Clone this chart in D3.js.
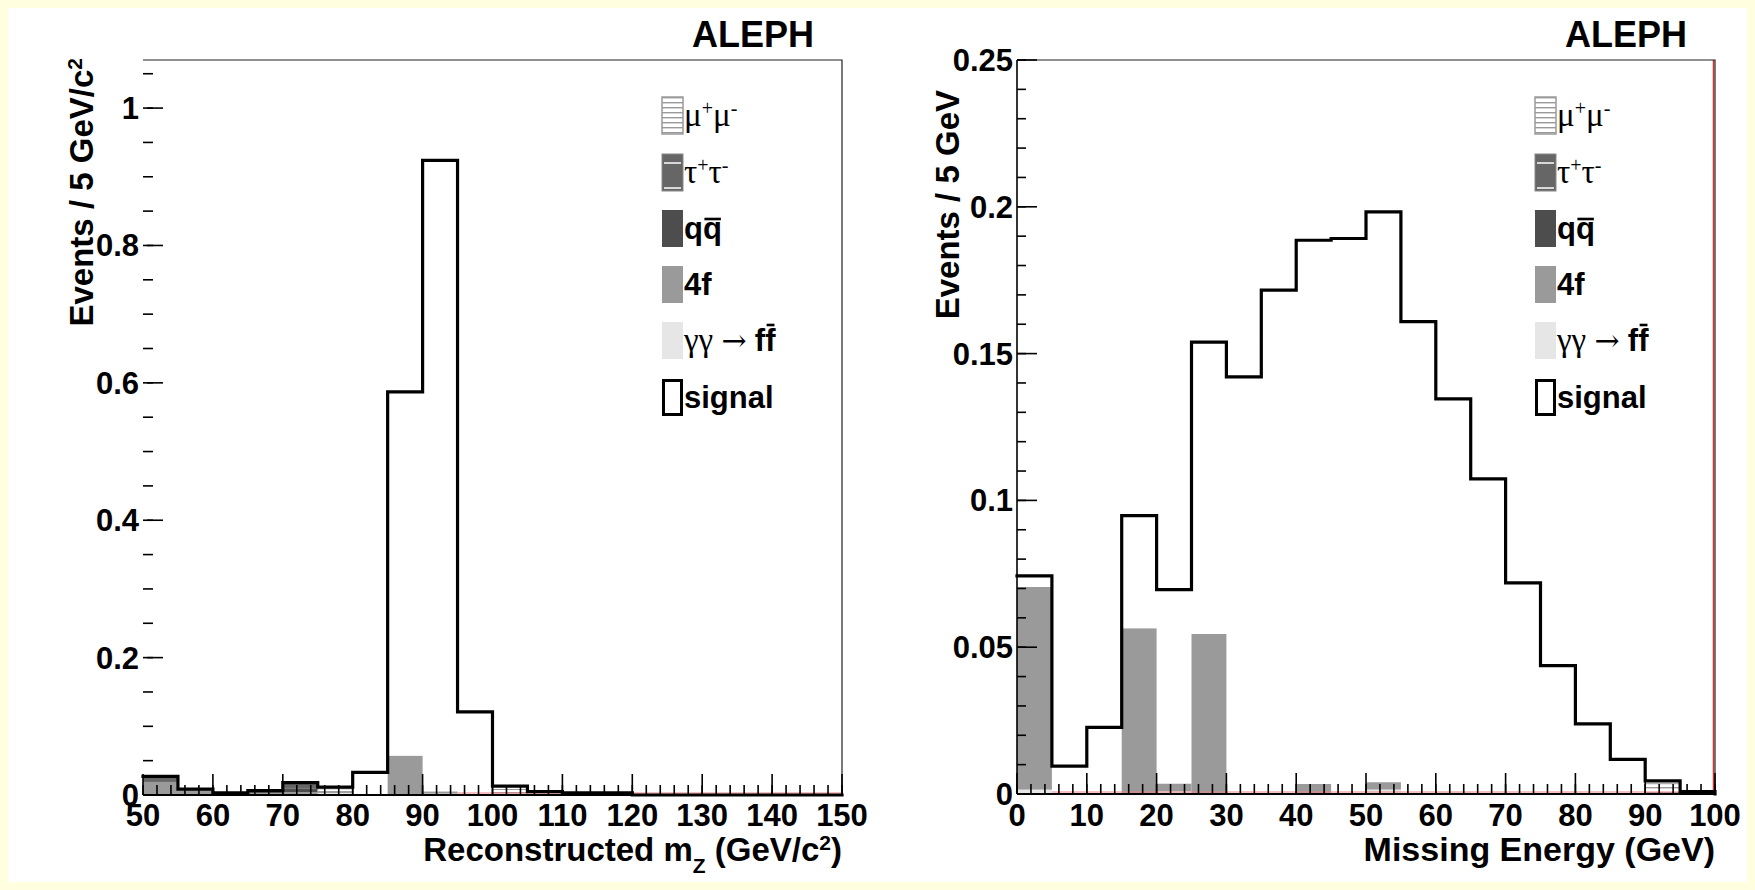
<!DOCTYPE html>
<html><head><meta charset="utf-8">
<script src="https://cdn.jsdelivr.net/npm/d3@7"></script>
<style>body{margin:0;background:#ffffe0;} svg{display:block}</style>
</head><body><svg id="c" width="1755" height="890"></svg>
<script>
// ---------- DATA ----------
// Left panel: reconstructed mZ, 5 GeV bins (low edges)
const mzBins = [50,55,60,65,70,75,80,85,90,95,100,105,110,115,120,125,130,135,140,145];
const mzSignal = [0.027,0.0085,0.003,0.0065,0.018,0.0115,0.033,0.587,0.924,0.121,0.013,0.005,0.003,0.003,0,0,0,0,0,0];
const mzGG     = [0,0,0,0,0,0.003,0,0,0.002,0,0,0,0,0,0,0,0,0,0,0];
const mz4f     = [0.019,0.007,0,0.003,0.004,0.002,0,0.057,0.003,0,0,0,0,0,0,0,0,0,0,0];
const mzQQ     = [0,0,0.003,0,0.005,0,0,0,0,0,0,0,0,0,0,0,0,0,0,0];
const mzTauTau = [0.008,0,0,0.003,0.009,0,0,0,0,0,0,0,0,0,0,0,0,0,0,0];
const mzMuMu   = [0,0,0,0,0,0.004,0,0,0,0,0.008,0,0,0,0,0,0,0,0,0];
const mzXTicks = [50,60,70,80,90,100,110,120,130,140,150];
const mzYTicks = [0,0.2,0.4,0.6,0.8,1];
const mzYLabels = ["0","0.2","0.4","0.6","0.8","1"];

// Right panel: missing energy, 5 GeV bins (low edges)
const meBins = [0,5,10,15,20,25,30,35,40,45,50,55,60,65,70,75,80,85,90,95];
const meSignal = [0.0743,0.0095,0.0227,0.0948,0.0696,0.1539,0.1421,0.1716,0.1886,0.1892,0.1983,0.1609,0.1346,0.1073,0.0719,0.0437,0.0239,0.0118,0.0045,0.0008];
const meGG     = [0.0015,0,0,0,0.001,0,0,0,0,0,0.0015,0,0.0008,0,0,0,0,0,0,0];
const me4f     = [0.069,0,0,0.0564,0.0025,0.0545,0,0,0.0034,0,0.0025,0,0,0,0,0,0,0,0,0];
const meQQ     = [0,0,0,0,0,0,0,0,0,0,0,0,0,0,0,0,0,0,0,0];
const meTauTau = [0,0,0,0,0,0,0,0,0,0,0,0,0,0,0,0,0,0,0,0];
const meMuMu   = [0,0,0,0,0,0,0,0,0,0,0,0,0,0,0,0,0,0,0.0035,0];
const meXTicks = [0,10,20,30,40,50,60,70,80,90,100];
const meYTicks = [0,0.05,0.1,0.15,0.2,0.25];
const meYLabels = ["0","0.05","0.1","0.15","0.2","0.25"];

const legendNames = ["mumu","tautau","qq","4f","gg","signal"];

// ---------- DRAW ----------
const svg = d3.select("#c");
const SANS = "'Liberation Sans', Arial, Helvetica, sans-serif";
const SERIF = "'Liberation Serif', 'Times New Roman', serif";

svg.append("rect").attr("x",0).attr("y",0).attr("width",1755).attr("height",890).attr("fill","#ffffe0");
svg.append("rect").attr("x",8).attr("y",8).attr("width",1739).attr("height",874).attr("fill","#ffffff");

const defs = svg.append("defs");
const pMu = defs.append("pattern").attr("id","hMu").attr("patternUnits","userSpaceOnUse")
  .attr("width",10).attr("height",5);
pMu.append("rect").attr("width",10).attr("height",5).attr("fill","#ffffff");
pMu.append("rect").attr("y",2).attr("width",10).attr("height",1.4).attr("fill","#9a9a9a");

const colors = {gg:"#e6e6e6", f4:"#9a9a9a", qq:"#4d4d4d", tau:"#666666", mu:"url(#hMu)"};

function overbar(g, textNode, idx, rise) {
  const e = textNode.getExtentOfChar(idx);
  const base = +textNode.getAttribute("y");
  g.append("line").attr("x1",e.x+1.5).attr("x2",e.x+e.width-1).attr("y1",base-rise).attr("y2",base-rise)
    .attr("stroke","#000").attr("stroke-width",2.6);
}

function drawPanel(p) {
  const x = d3.scaleLinear().domain(p.xDomain).range([p.x0, p.x1]);
  const y = d3.scaleLinear().domain(p.yDomain).range([p.y0, p.top]);
  const g = svg.append("g");
  const width = p.bins[1]-p.bins[0];

  // stacked backgrounds
  const rows = p.bins.map((b,i)=>({lo:b, gg:p.gg[i], f4:p.f4[i], qq:p.qq[i], tau:p.tau[i], mu:p.mu[i]}));
  const keys = ["gg","f4","qq","tau","mu"];
  const stack = d3.stack().keys(keys)(rows);
  stack.forEach(layer=>{
    g.append("g").selectAll("rect").data(layer.filter(d=>d[1]-d[0]>0)).join("rect")
      .attr("x",d=>x(d.data.lo)).attr("width",d=>x(d.data.lo+width)-x(d.data.lo))
      .attr("y",d=>y(d[1])).attr("height",d=>y(d[0])-y(d[1]))
      .attr("fill",colors[layer.key])
      .attr("stroke", layer.key==="mu" ? "#9a9a9a" : "none").attr("stroke-width",1);
  });

  // red zero-level line
  p.red.forEach(([a,b])=>{
    g.append("line").attr("x1",x(a)).attr("x2",x(b)).attr("y1",y(0)-2).attr("y2",y(0)-2)
      .attr("stroke","#f08080").attr("stroke-width",1.2);
  });
  if (p.redEdge) {
    g.append("line").attr("x1",x(p.xDomain[1])-1.5).attr("x2",x(p.xDomain[1])-1.5)
      .attr("y1",p.top).attr("y2",p.y0).attr("stroke","#e03030").attr("stroke-width",1.5);
  }

  // frame (top, right)
  g.append("path").attr("d",`M${p.x0},${p.top}H${p.x1}V${p.y0}`).attr("fill","none")
    .attr("stroke","#222").attr("stroke-width",1.2);
  if (p.leftLine) g.append("line").attr("x1",p.x0).attr("x2",p.x0).attr("y1",p.top).attr("y2",p.y0)
    .attr("stroke","#000").attr("stroke-width",1.6);

  // signal step line
  let d = "";
  p.bins.forEach((b,i)=>{
    const xa = x(b), xb = x(b+width), yy = y(p.signal[i]);
    d += (i===0 ? `M${xa},${yy}` : `L${xa},${yy}`) + `L${xb},${yy}`;
  });
  d += `L${x(p.xDomain[1])},${y(0)}`;
  g.append("path").attr("d",d).attr("fill","none").attr("stroke","#000").attr("stroke-width",3.2)
    .attr("stroke-linejoin","miter").attr("stroke-linecap","square");

  // x axis line
  g.append("line").attr("x1",p.x0).attr("x2",p.x1).attr("y1",y(0)).attr("y2",y(0))
    .attr("stroke","#000").attr("stroke-width",2);

  // x ticks
  const xMinor = d3.range(p.xDomain[0], p.xDomain[1]+0.001, 2);
  g.append("g").selectAll("line").data(xMinor).join("line")
    .attr("x1",v=>x(v)).attr("x2",v=>x(v)).attr("y1",y(0)).attr("y2",y(0)-10)
    .attr("stroke","#000").attr("stroke-width",1.6);
  g.append("g").selectAll("line").data(p.xTicks).join("line")
    .attr("x1",v=>x(v)).attr("x2",v=>x(v)).attr("y1",y(0)).attr("y2",y(0)-21)
    .attr("stroke","#000").attr("stroke-width",1.6);
  g.append("g").selectAll("text").data(p.xTicks).join("text")
    .attr("x",v=>x(v)).attr("y",826).attr("text-anchor","middle")
    .attr("font-family",SANS).attr("font-weight","bold").attr("font-size",31).text(v=>v);

  // y ticks
  const yMinor = d3.range(0, p.yDomain[1]+1e-9, p.yMinorStep);
  g.append("g").selectAll("line").data(yMinor).join("line")
    .attr("x1",p.x0).attr("x2",p.x0+p.minorLen).attr("y1",v=>y(v)).attr("y2",v=>y(v))
    .attr("stroke","#000").attr("stroke-width",1.6);
  g.append("g").selectAll("line").data(p.yTicks).join("line")
    .attr("x1",p.x0+p.majorStart).attr("x2",p.x0+20).attr("y1",v=>y(v)).attr("y2",v=>y(v))
    .attr("stroke","#000").attr("stroke-width",1.6);
  g.append("g").selectAll("text").data(p.yTicks).join("text")
    .attr("x",p.yLabelX).attr("y",v=>y(v)+11).attr("text-anchor","end")
    .attr("font-family",SANS).attr("font-weight","bold").attr("font-size",31)
    .text((v,i)=>p.yLabels[i]);

  // ALEPH
  g.append("text").attr("x",p.x1-28).attr("y",47).attr("text-anchor","end")
    .attr("font-family",SANS).attr("font-weight","bold").attr("font-size",36).text("ALEPH");

  // x title
  const xt = g.append("text").attr("x",p.x1).attr("y",861).attr("text-anchor","end")
    .attr("font-family",SANS).attr("font-weight","bold").attr("font-size",p.xTitleSize);
  p.xTitle(xt);

  // y title
  const yt = g.append("text").attr("transform",`translate(${p.yTitleX},${p.yTitleY}) rotate(-90)`)
    .attr("text-anchor","end").attr("font-family",SANS).attr("font-weight","bold").attr("font-size",33);
  p.yTitle(yt);

  // legend
  const lx = p.x1-180, rowTop = [97,154,210,266,322,379];
  legendNames.forEach((name,i)=>{
    const ry = rowTop[i];
    const bw = 21, bh = 37;
    const box = g.append("rect").attr("x",lx).attr("y",ry).attr("width",bw).attr("height",bh);
    if (name==="mumu") box.attr("fill","url(#hMu)").attr("stroke","#9a9a9a").attr("stroke-width",1.5);
    else if (name==="tautau") {
      box.attr("fill","#666666").attr("stroke","#888").attr("stroke-width",1);
      [ry+9, ry+34].forEach(yy=>g.append("line").attr("x1",lx+2).attr("x2",lx+bw-2).attr("y1",yy).attr("y2",yy)
        .attr("stroke","#fff").attr("stroke-width",1.5));
    }
    else if (name==="qq") box.attr("fill","#4d4d4d");
    else if (name==="4f") box.attr("fill","#9a9a9a");
    else if (name==="gg") box.attr("fill","#e6e6e6");
    else box.attr("fill","#fff").attr("stroke","#000").attr("stroke-width",3).attr("x",lx+1.5).attr("y",ry+1.5)
      .attr("width",bw-3).attr("height",bh-3);
    const ty = ry+29;
    const t = g.append("text").attr("x",lx+bw+1).attr("y",ty).attr("font-size",31);
    if (name==="mumu" || name==="tautau") {
      const c = name==="mumu" ? "μ" : "τ";
      t.attr("font-family",SERIF).attr("font-size",33);
      t.append("tspan").text(c);
      t.append("tspan").attr("baseline-shift","super").attr("font-size",20).text("+");
      t.append("tspan").text(c);
      t.append("tspan").attr("baseline-shift","super").attr("font-size",20).text("-");
    } else if (name==="qq") {
      t.attr("font-family",SANS).attr("font-weight","bold").text("qq");
      overbar(g, t.node(), 1, 20);
    } else if (name==="4f") {
      t.attr("font-family",SANS).attr("font-weight","bold").text("4f");
    } else if (name==="gg") {
      t.append("tspan").attr("font-family",SERIF).attr("font-size",33).text("γγ ");
      t.append("tspan").attr("font-family","'DejaVu Serif', serif").attr("font-size",30).text("→");
      t.append("tspan").attr("font-family",SERIF).attr("font-size",33).text(" ");
      t.append("tspan").attr("font-family",SANS).attr("font-weight","bold").text("ff");
      overbar(g, t.node(), 6, 26);
    } else {
      t.attr("font-family",SANS).attr("font-weight","bold").text("signal");
    }
  });
}

drawPanel({
  bins: mzBins, signal: mzSignal, gg: mzGG, f4: mz4f, qq: mzQQ, tau: mzTauTau, mu: mzMuMu,
  xDomain:[50,150], yDomain:[0,1.07], x0:143, x1:842, y0:795, top:60,
  xTicks: mzXTicks, yTicks: mzYTicks, yLabels: mzYLabels, yMinorStep:0.05, minorLen:10, majorStart:4,
  yLabelX:139, leftLine:false, red:[[95,150]], redEdge:false,
  yTitleX:93, yTitleY:58, xTitleSize:33,
  xTitle: t=>{ t.append("tspan").text("Reconstructed m");
    t.append("tspan").attr("baseline-shift","sub").attr("font-size",21).text("Z");
    t.append("tspan").text(" (GeV/c");
    t.append("tspan").attr("baseline-shift","super").attr("font-size",21).text("2");
    t.append("tspan").text(")"); },
  yTitle: t=>{ t.append("tspan").text("Events / 5 GeV/c");
    t.append("tspan").attr("baseline-shift","super").attr("font-size",21).text("2"); }
});

drawPanel({
  bins: meBins, signal: meSignal, gg: meGG, f4: me4f, qq: meQQ, tau: meTauTau, mu: meMuMu,
  xDomain:[0,100], yDomain:[0,0.25], x0:1017, x1:1715, y0:794, top:60,
  xTicks: meXTicks, yTicks: meYTicks, yLabels: meYLabels, yMinorStep:0.01, minorLen:9, majorStart:0,
  yLabelX:1013, leftLine:true, red:[[5,100]], redEdge:true,
  yTitleX:959, yTitleY:90, xTitleSize:34,
  xTitle: t=>{ t.text("Missing Energy (GeV)"); },
  yTitle: t=>{ t.text("Events / 5 GeV"); }
});
</script></body></html>
